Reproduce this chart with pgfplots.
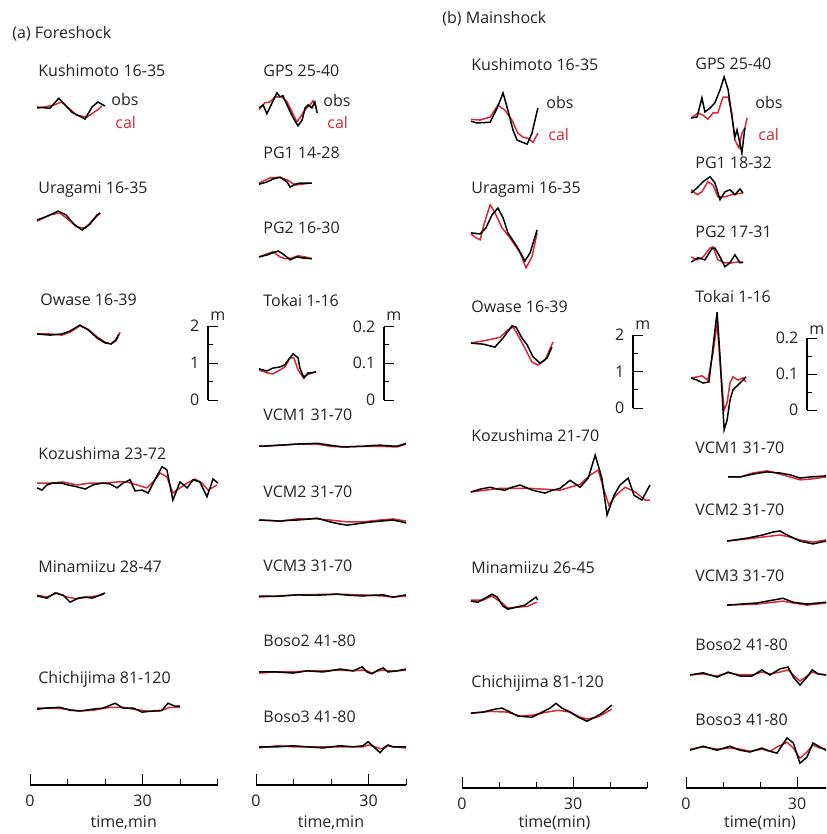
\documentclass[border=0pt]{standalone}
\usepackage{pgfplots}
\pgfplotsset{compat=1.18}
\usepackage{fontspec}
\setmainfont{Open Sans}
\definecolor{calred}{RGB}{214,40,57}
\definecolor{txt}{RGB}{35,35,35}
\newcommand{\fs}{\fontsize{8}{9.5}\selectfont}
\pgfplotsset{
  obs/.style={black, line width=0.75pt, mark=none},
  cal/.style={calred, line width=0.75pt, mark=none},
  col/.style={
    anchor=south west,
    axis x line*=bottom, axis y line=none, ytick=\empty,
    xtick={0,30}, minor xtick={10,20,40,50},
    tick align=inside, major tick length=5.5pt, minor tick length=3pt,
    every tick/.style={black, line width=0.5pt},
    axis line style={line width=1.1pt, -},
    xmin=0, ymin=0, clip=false,
    tick label style={font=\fs, text=txt},
    xticklabel style={yshift=-1.2pt},
    label style={font=\fs, text=txt},
    xlabel style={yshift=2.2pt},
    /pgf/number format/assume math mode=true,
  },
  bar/.style={
    anchor=south west,
    x=4pt, xmin=0, xmax=1, ymin=0,
    axis y line*=left, axis x line=none, xtick=\empty,
    tick align=inside, major tick length=5pt, minor tick length=2.5pt,
    every tick/.style={black, line width=0.5pt},
    axis line style={line width=0.9pt, -},
    tick label style={font=\fs, text=txt},
    yticklabel style={xshift=-0.8pt},
    /pgf/number format/assume math mode=true,
    clip=false,
  },
}
\newcommand{\wave}[3]{%
  \addplot[cal, y filter/.expression={y+#1}] coordinates {#2};
  \addplot[obs, y filter/.expression={y+#1}] coordinates {#3};
}
\begin{document}
\begin{tikzpicture}
\useasboundingbox (0,0) rectangle (413pt,-417pt);
\clip (0,0) rectangle (413pt,-417pt);

% ---------------- text in pixel coordinates ----------------
\begin{scope}[x=0.5pt,y=-0.5pt, every node/.style={font=\fs, text=txt, anchor=west, inner sep=0pt}]
\node at (12,34) {(a) Foreshock};
\node at (442,19) {(b) Mainshock};
% (a) left
\node at (38,71) {Kushimoto 16-35};
\node at (38,190) {Uragami 16-35};
\node at (40,300) {Owase 16-39};
\node at (38,453) {Kozushima 23-72};
\node at (38,567) {Minamiizu 28-47};
\node at (38,679) {Chichijima 81-120};
\node at (111,100) {obs};
\node[text=calred] at (115,123) {cal};
\node at (210,316) {m};
% (a) right
\node at (263,71) {GPS 25-40};
\node at (263,153) {PG1 14-28};
\node at (263,228) {PG2 16-30};
\node at (263,300) {Tokai 1-16};
\node at (263,415) {VCM1 31-70};
\node at (263,492) {VCM2 31-70};
\node at (263,566) {VCM3 31-70};
\node at (263,641) {Boso2 41-80};
\node at (263,717) {Boso3 41-80};
\node at (323,101) {obs};
\node[text=calred] at (327,123) {cal};
\node at (386,316) {m};
% (b) left
\node at (471,65) {Kushimoto 16-35};
\node at (471,190) {Uragami 16-35};
\node at (471,307) {Owase 16-39};
\node at (471,435) {Kozushima 21-70};
\node at (471,568) {Minamiizu 26-45};
\node at (471,683) {Chichijima 81-120};
\node at (546,103) {obs};
\node[text=calred] at (548,135) {cal};
\node at (635,325) {m};
% (b) right
\node at (695,64) {GPS 25-40};
\node at (695,163) {PG1 18-32};
\node at (695,232) {PG2 17-31};
\node at (695,296) {Tokai 1-16};
\node at (695,448) {VCM1 31-70};
\node at (695,510) {VCM2 31-70};
\node at (695,576) {VCM3 31-70};
\node at (695,645) {Boso2 41-80};
\node at (695,720) {Boso3 41-80};
\node at (755,103) {obs};
\node[text=calred] at (758,135) {cal};
\node at (809,330) {m};
\end{scope}

% ---------------- (a) left column ----------------
\begin{axis}[col, at={(15pt,-392.5pt)}, x=1.875pt, y=18.5pt, xmax=50, ymax=20, xlabel={time,min}]
\wave{18.32}{(1.9,-0.03) (6.1,0.05) (8.5,0.14) (12.5,-0.22) (15.2,-0.27) (17.9,-0.08) (19.2,0.03)}
{(1.9,0) (5.3,-0.03) (7.7,0.24) (11.2,-0.14) (14.7,-0.32) (16.5,0) (18.1,0.14) (20,0.03)}
\wave{15.27}{(1.9,-0.03) (5.3,0.14) (8,0.19) (10.7,-0.03) (12.5,-0.19) (14.7,-0.22) (16.8,0) (18.7,0.19)}
{(1.9,0) (4.8,0.11) (7.5,0.24) (9.6,0.14) (11.7,-0.11) (13.9,-0.27) (16,-0.11) (17.9,0.14) (18.7,0.19)}
\wave{12.19}{(1.9,0) (5.3,0) (8.5,-0.03) (10.7,0.05) (13.3,0.22) (15.5,0.13) (17.9,-0.08) (20,-0.22) (21.6,-0.27) (22.9,-0.19) (23.7,-0.03) (24,0.05)}
{(1.9,0) (5.3,-0.03) (8.5,0) (10.7,0.08) (13.3,0.24) (15.5,0.11) (17.9,-0.11) (20,-0.24) (21.6,-0.27) (22.9,-0.16) (23.7,0)}
\wave{8.11}{(1.9,0.05) (5.3,0.05) (8.8,0.08) (12.5,0) (16,0.05) (19.5,0.05) (23.2,0.08) (25.9,0.08) (28.5,0) (31.2,-0.08) (32.8,0.08) (34.7,0.32) (36.5,0.22) (38.1,-0.22) (40,-0.08) (41.9,0.05) (44,0.16) (45.9,0.05) (47.5,-0.14) (49.9,0)}
{(1.9,-0.08) (3.2,-0.14) (4.5,0) (6.1,0.05) (8.5,0.05) (10.1,0) (12.5,-0.05) (14.7,-0.11) (16.8,0) (19.2,0.05) (21.3,0.03) (23.2,-0.08) (24.8,0.05) (26.7,0.14) (28,-0.16) (29.9,-0.14) (31.5,-0.22) (33.3,0.14) (35.2,0.49) (36.5,0.41) (38.1,-0.41) (40,0.08) (41.9,-0.08) (43.5,0.14) (45.3,0.08) (47.2,-0.32) (48.8,0.16) (50.1,0.05)}
\wave{5.08}{(1.9,0.05) (4.5,0) (7.2,0.11) (9.9,0) (12.5,-0.05) (15.2,0) (17.9,0.03) (19.7,0.08)}
{(1.9,0.03) (4.5,-0.03) (6.7,0.11) (8.8,0.05) (10.7,-0.14) (12.8,-0.03) (14.7,0) (16.5,-0.03) (18.1,0.03) (20,0.11)}
\wave{2.05}{(1.9,0.03) (6.1,0.03) (9.9,0) (13.3,-0.05) (16.8,-0.03) (21.3,0.05) (24.8,0.05) (27.5,0) (31.2,-0.05) (34.7,-0.05) (37.3,0.05) (40,0.05)}
{(1.9,0) (4.5,0.03) (8,0.05) (10.7,-0.03) (13.3,-0.05) (16.8,0) (19.5,0.03) (22.7,0.16) (24.8,0.03) (27.5,0.03) (29.9,-0.08) (32.8,-0.05) (35.2,-0.03) (36.8,0.16) (38.7,0.08) (40,0.08)}
\end{axis}
\begin{axis}[bar, at={(104pt,-200pt)}, y=18.5pt, ymax=2, ytick={0,1,2}, minor ytick={0.5,1.5}]
\end{axis}

% ---------------- (a) right column ----------------
\begin{axis}[col, at={(128pt,-392.5pt)}, x=1.875pt, y=183.5pt, xmax=40, ymax=2, xlabel={time,min}]
\wave{1.845}{(0.8,-0.005) (2.4,0.014) (3.7,0.016) (5.1,0.030) (6.9,0.030) (8.3,0.016) (9.6,-0.011) (10.9,-0.038) (11.7,-0.027) (13.1,-0.005) (14.4,0.008) (15.2,0.019) (16,0.003)}
{(0.8,0) (1.9,0.008) (2.9,-0.016) (4.3,0.014) (5.6,0.041) (6.4,0.030) (7.2,0.033) (8.5,0.003) (9.9,-0.027) (11.2,-0.049) (12.3,-0.033) (13.1,0) (13.9,0.008) (14.9,0) (15.7,0.016) (16.3,-0.014)}
\wave{1.640}{(0.8,0) (3.7,0.014) (6.4,0.016) (8.5,0.008) (10.4,-0.005) (12.3,-0.003) (14.4,0)}
{(0.8,-0.003) (2.9,0.003) (4.5,0.011) (6.4,0.016) (8.3,0.003) (9.1,-0.011) (10.4,-0.003) (11.7,0) (13.6,0) (14.9,0)}
\wave{1.439}{(0.8,0) (2.9,0.008) (4.5,0.014) (6.4,0) (7.7,-0.005) (9.6,-0.003) (11.2,0.003) (13.1,0) (14.9,-0.005)}
{(0.8,0) (2.9,0.005) (4.5,0.011) (5.9,0.016) (7.2,0.008) (9.1,-0.008) (10.9,0) (12.5,-0.003) (14.9,-0.005)}
\wave{1.131}{(0.8,0) (2.9,-0.008) (4.5,-0.011) (6.4,0) (7.7,0.008) (9.1,0.033) (10.1,0.033) (11.2,0) (12.5,-0.019) (13.6,-0.014) (14.9,-0.008) (16,-0.005)}
{(0.8,0.003) (2.9,-0.003) (4.5,0.005) (6.4,0.008) (7.7,0.014) (8.8,0.030) (9.9,0.044) (11.2,0.033) (11.7,0.005) (12.8,-0.022) (13.9,-0.008) (14.9,-0.008) (16,-0.005)}
\wave{0.926}{(0.8,-0.003) (6.4,0) (10.9,0.003) (16.3,0.003) (19.7,-0.003) (23.2,-0.005) (28.5,-0.003) (33.1,-0.003) (37.6,-0.005) (40,0.003)}
{(0.8,-0.003) (3.5,-0.002) (6.4,0) (8.5,0.001) (10.9,0.003) (13.5,0.004) (16.3,0.005) (19.7,0) (23.2,-0.005) (25.8,-0.004) (28.5,-0.003) (31,-0.001) (33.1,0) (35.5,-0.002) (37.6,-0.003) (40,0.005)}
\wave{0.722}{(0.8,0) (6.4,-0.003) (10.9,0.003) (16.3,0.003) (19.7,0) (24.3,-0.005) (28.5,-0.005) (33.1,0) (36.5,0.003) (40,-0.003)}
{(0.8,0) (3.5,-0.001) (6.4,-0.003) (8.5,-0.001) (10.9,0) (13.5,0.002) (16.3,0.005) (19.7,-0.005) (22,-0.01) (24.3,-0.014) (26.5,-0.011) (28.5,-0.008) (31,-0.005) (33.1,-0.003) (36.5,0) (38.5,-0.004) (40,-0.008)}
\wave{0.515}{(0.8,-0.003) (5.5,0) (10.9,0.003) (16,0.004) (21.6,0.005) (28.5,0.003) (33.9,0) (36.5,-0.003) (40,0)}
{(0.8,0) (5.5,-0.001) (10.9,0.003) (16,0.002) (21.6,0.005) (25,0.002) (28.5,0) (31,0.002) (33.9,0.003) (36.5,-0.003) (40,0.003)}
\wave{0.308}{(0.8,-0.003) (5.6,0) (9.9,0) (13.6,0.003) (17.9,0.003) (22.4,0.005) (25.9,0.003) (28.3,0.005) (29.6,0.003) (30.9,-0.003) (32.5,0.003) (33.9,0.005) (35.2,0.003) (37.6,0.003) (40,0.005)}
{(0.8,0) (5.6,0) (9.9,-0.003) (13.6,0.003) (17.9,0) (22.4,0.008) (25.9,0.003) (28.3,0.014) (29.6,0) (30.9,-0.005) (32.5,0.005) (33.9,0.011) (35.2,0) (37.6,0.003) (40,0.008)}
\wave{0.104}{(0.8,-0.003) (5.6,0.003) (9.9,0) (13.6,0) (17.9,0) (22.4,0) (25.9,0) (28.5,0) (29.9,0.005) (31.7,0) (33.1,-0.005) (34.4,-0.003) (35.2,0.003) (36.5,0) (40,-0.003)}
{(0.8,0) (5.6,0) (9.9,0.003) (13.6,0) (17.9,-0.003) (22.4,0.003) (25.9,0) (28.5,0.003) (29.9,0.014) (31.7,-0.003) (33.1,-0.016) (34.4,0) (35.2,0.005) (36.5,0) (40,0)}
\end{axis}
\begin{axis}[bar, at={(192pt,-200pt)}, y=183.5pt, ymax=0.2, ytick={0,0.1,0.2}, minor ytick={0.05,0.15}]
\end{axis}

% ---------------- (b) left column ----------------
\begin{axis}[col, at={(231pt,-394pt)}, x=1.85pt, y=18.25pt, xmax=50, ymax=20, xlabel={time(min)}, xlabel style={yshift=1.5pt}]
\wave{18.27}{(2.4,0.05) (4.9,0.03) (7.6,0.11) (9.7,0.44) (11.6,0.30) (13.5,0.03) (15.1,-0.33) (16.5,-0.44) (17.8,-0.47) (19.2,-0.58) (20.5,-0.33)}
{(2.4,0) (4,-0.05) (7.6,-0.03) (9.5,0.36) (11.1,0.77) (12.4,0.30) (13.8,-0.25) (14.9,-0.52) (17.6,-0.63) (18.9,-0.33) (20.5,0.36)}
\wave{15.21}{(2.4,-0.03) (3.8,-0.14) (4.9,-0.19) (5.9,0.22) (7.6,0.77) (8.9,0.55) (10.8,0.14) (13,-0.14) (15.7,-0.55) (17.3,-0.96) (18.9,-0.66) (20.3,0)}
{(2.4,0) (4.9,-0.03) (6.5,0.14) (8.1,0.49) (9.7,0.68) (11.1,0.41) (12.4,0) (14.9,-0.38) (17,-0.77) (18.4,-0.55) (20.3,0.08)}
\wave{12.19}{(2.4,0) (6.8,0.08) (10.3,0.16) (12.4,0.36) (13.8,0.44) (15.1,0.22) (17,-0.14) (18.9,-0.52) (20.5,-0.60) (22.4,-0.47) (24.6,0.03)}
{(2.4,0) (5.7,-0.03) (8.9,-0.11) (11.1,0.14) (13.5,0.47) (14.6,0.44) (16.2,0.14) (17.6,-0.05) (19.2,-0.38) (21.1,-0.55) (23,-0.41) (24.3,-0.11)}
\wave{8.16}{(2.4,-0.05) (10.3,0.05) (18.4,0.05) (26.5,0) (31.9,0.16) (34.6,0.41) (36.8,0.55) (38.4,0) (39.7,-0.41) (41.6,-0.14) (44.1,0.08) (46.8,-0.05) (49.5,-0.27) (50.8,-0.27)}
{(2.4,-0.05) (5,0.03) (7.6,0.08) (9.5,0.03) (11.6,0) (13.5,0.08) (15.7,0.14) (19,0) (22.4,-0.08) (24.5,0) (26.5,0.05) (29.2,0.27) (31.9,0.08) (34.1,0.33) (36,0.96) (37.8,0.33) (39.2,-0.68) (41.1,-0.14) (42.7,0.14) (44.9,0.33) (46.5,-0.14) (48.6,-0.27) (50.8,0.14)}
\wave{5.12}{(2.4,0.03) (5.7,0.03) (8.1,0.14) (10.8,-0.05) (12.4,-0.19) (15.7,-0.16) (17.8,-0.14) (19.7,-0.05) (20.3,-0.03)}
{(2.4,0) (4.3,-0.03) (6.2,0.08) (8.1,0.19) (9.5,0.11) (11.1,-0.14) (12.4,-0.22) (14.9,-0.16) (17,-0.11) (18.9,0.03) (20,0.11) (20.5,0.03)}
\wave{2.05}{(2.4,0) (7.6,0.05) (12.2,0.03) (15.7,-0.08) (19.2,-0.05) (23,0.03) (26,0.08) (29.2,0.03) (31.9,-0.11) (33.8,-0.16) (36.5,-0.11) (38.6,0) (40.5,0.11)}
{(2.4,0) (5.7,0.03) (8.9,0.11) (10.8,0.14) (13,0.03) (15.1,-0.08) (18.9,-0.11) (21.1,0) (23.8,0.14) (25.4,0.27) (27,0.14) (29.2,0.03) (31.4,-0.11) (33.8,-0.22) (35.4,-0.14) (37.8,0) (40.5,0.22)}
\end{axis}
\begin{axis}[bar, at={(316.5pt,-204pt)}, y=18.25pt, ymax=2, ytick={0,1,2}, minor ytick={0.5,1.5}]
\end{axis}

% ---------------- (b) right column ----------------
\begin{axis}[col, at={(343pt,-394pt)}, x=1.85pt, y=180pt, xmax=40, ymax=2, xlabel={time(min)}, xlabel style={yshift=1.5pt}]
\wave{1.861}{(1.4,0) (3.2,0.014) (4.6,0.008) (5.9,-0.003) (7.3,0.014) (8.6,0.014) (10,0.058) (11.4,0.058) (12.4,0.014) (13.2,-0.061) (14.3,-0.083) (15.1,-0.042) (15.9,-0.028) (16.5,0)}
{(1.4,0) (3,0.003) (4.3,0.056) (5.1,0.017) (6.5,0.028) (7.8,0.042) (9.2,0.078) (10.3,0.114) (11.4,0.078) (12.4,0.003) (13.2,-0.053) (13.8,-0.033) (15.1,-0.097) (15.9,-0.028)}
\wave{1.656}{(1.4,0.006) (3,-0.008) (4.3,0) (5.9,0.028) (7.3,0.019) (8.6,-0.014) (10.5,-0.014) (12.4,-0.008) (15.4,-0.003)}
{(1.4,-0.003) (3,0.011) (4.6,0.028) (6.5,0.042) (7.8,0.025) (9.2,-0.022) (10.5,0) (11.9,0.006) (13.2,-0.008) (14.6,0.008) (15.4,-0.003)}
\wave{1.467}{(1.4,0.008) (3,0) (4.6,0.008) (6.5,0.033) (7.3,0.036) (8.6,0) (10.5,-0.008) (12.4,-0.008) (14.1,-0.006) (15.4,-0.008)}
{(1.4,-0.006) (3.2,0.006) (5.1,0) (7,0.031) (7.8,0.033) (9.2,0.008) (10.5,-0.019) (11.9,-0.008) (13.2,0.014) (14.6,-0.008) (15.4,-0.006)}
\wave{1.139}{(1.4,0) (3,0.003) (4.3,0.006) (5.9,-0.006) (7.3,0.069) (8.4,0.153) (9.2,0.042) (10.3,-0.089) (11.1,-0.069) (11.9,-0.014) (12.7,0.003) (14.1,-0.006) (15.4,0) (16.2,-0.011)}
{(1.4,0) (3,-0.006) (4.6,-0.014) (6.2,-0.011) (7.3,0.086) (8.4,0.183) (9.2,0.058) (10.3,-0.144) (11.1,-0.117) (11.9,-0.061) (12.7,-0.033) (14.1,-0.019) (15.4,-0.006) (16.2,0.003)}
\wave{0.864}{(11.4,0) (14.6,0) (18.1,0.011) (21.9,0.017) (25.4,0.008) (28.1,0) (30.8,-0.008) (33.5,-0.006) (37.8,0) (40,0) (45,0.003) (50,0)}
{(11.4,0) (14.6,0) (18.1,0.008) (21.9,0.014) (25.4,0.011) (28.1,0.006) (30.8,-0.003) (33.5,0) (37.8,0.003) (40,0.003) (45,0) (50,0.003)}
\wave{0.686}{(11.1,0) (16.5,0.006) (20.8,0.011) (25.4,0.017) (28.1,0.011) (30.8,0.003) (34.3,-0.003) (37.8,0.003) (42,0.003) (50,0)}
{(11.1,0) (16.5,0.008) (20.8,0.017) (23.5,0.025) (25.4,0.028) (27.3,0.017) (30.8,0) (34.3,-0.008) (37.8,0) (42,0.003) (50,0)}
\wave{0.508}{(11.1,0) (19.2,0.003) (23.5,0.008) (26.2,0.011) (29,0.006) (32.7,0) (37.8,0.006) (42,0.003) (50,0)}
{(11.1,0) (19.2,0.006) (23.5,0.014) (26.2,0.019) (29,0.008) (32.7,0.003) (37.8,0.008) (42,0.005) (50,0)}
\wave{0.314}{(1.1,0) (4.6,0.003) (8.4,-0.003) (11.4,0.006) (14.6,0) (17.8,0) (20.5,0.008) (22.7,0.003) (25.4,0.008) (27.6,0.014) (29,0) (30.8,-0.017) (32.7,-0.003) (34.1,0.008) (35.7,0.003) (37.8,0) (40,0)}
{(1.1,0) (4.6,0.006) (8.4,-0.006) (11.4,0.008) (14.6,-0.003) (17.8,-0.003) (20.5,0.014) (22.7,0) (25.4,0.017) (27.6,0.022) (29,-0.006) (30.8,-0.028) (32.7,-0.006) (34.1,0.014) (35.7,0.003) (37.8,0) (40,0.003)}
\wave{0.108}{(1.1,0) (4.6,0.006) (8.4,0) (11.9,0.003) (14.6,0) (17.3,-0.006) (20.5,0) (22.7,-0.006) (24.6,0.006) (27.3,0.019) (29,0.003) (30.8,-0.025) (32.7,-0.008) (34.3,0.011) (36.2,0.003) (37.8,0) (40,0)}
{(1.1,-0.003) (4.6,0.008) (8.4,-0.003) (11.9,0.008) (14.6,-0.003) (17.3,-0.008) (20.5,0.003) (22.7,-0.006) (24.6,-0.011) (27.3,0.031) (29,0.017) (30.8,-0.039) (32.7,-0.022) (34.3,0.017) (36.2,0.006) (37.8,-0.003) (40,0)}
\end{axis}
\begin{axis}[bar, at={(403.5pt,-205pt)}, y=180pt, ymax=0.2, ytick={0,0.1,0.2}, minor ytick={0.05,0.15}]
\end{axis}
\end{tikzpicture}
\end{document}
